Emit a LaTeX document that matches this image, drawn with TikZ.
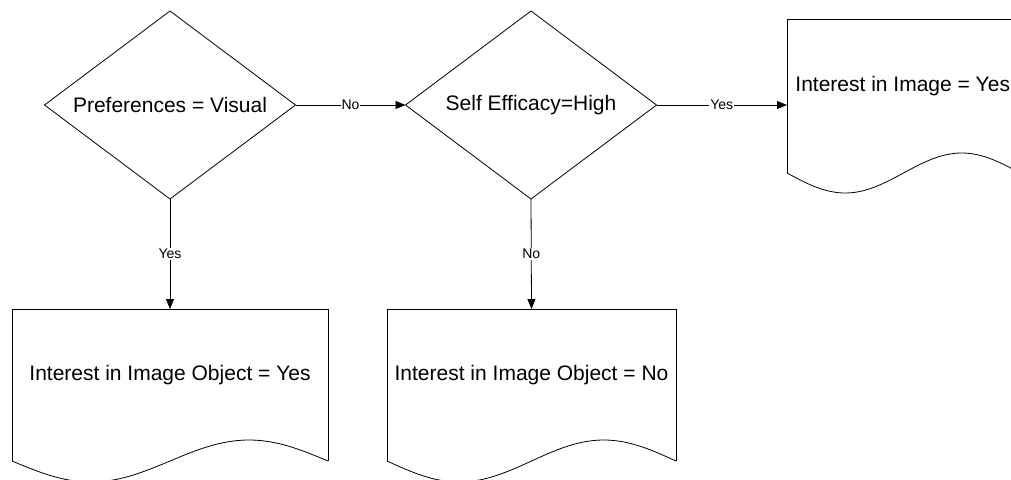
\documentclass[tikz,border=0pt]{standalone}
\usepackage{fontspec}
\setmainfont{Liberation Sans}
\usetikzlibrary{shapes.geometric,arrows.meta,calc}
\tikzset{
  decision/.style={diamond, draw, shape aspect=1.335, inner sep=0pt, outer sep=0pt,
    minimum width=251pt, minimum height=188pt, font=\fontsize{21}{25}\selectfont},
  docbody/.style={rectangle, inner sep=0pt, outer sep=0pt, anchor=north west},
  doctext/.style={font=\fontsize{21}{25}\selectfont, inner sep=0pt},
  lab/.style={fill=white, inner sep=1pt, font=\fontsize{14}{16}\selectfont},
  arr/.style={-{Triangle[length=10pt,width=8pt]}}
}
\newcommand{\docoutline}[2]{% node name, amplitude
  \draw (#1.south west) -- (#1.north west) -- (#1.north east) -- (#1.south east);
  \path (#1.south west) coordinate (#1-a) (#1.south east) coordinate (#1-b);
  \draw let \p1=(#1-a), \p2=(#1-b), \n1={(\x2-\x1)/4} in
    (#1-a) sin ++(\n1,-#2) cos ++(\n1,#2) sin ++(\n1,#2) cos ++(\n1,-#2);
}
\begin{document}
\begin{tikzpicture}[x=1pt, y=-1pt, line width=0.8pt]
\useasboundingbox (0,0) rectangle (1011,479);
\clip (0,0) rectangle (1011,479);

\node[decision] (p1) at (170,105) {Preferences = Visual};
\node[decision] (p2) at (531,105) {Self Efficacy=High};

\node[docbody, minimum width=316pt, minimum height=152pt] (d1) at (12,309) {};
\node[docbody, minimum width=289pt, minimum height=152pt] (d2) at (387,309) {};
\node[docbody, minimum width=233pt, minimum height=154pt] (d3) at (787,19) {};

\docoutline{d1}{21pt}
\docoutline{d2}{21pt}
\docoutline{d3}{20pt}

\node[doctext] (t1) at ([yshift=10pt]d1.center) {Interest in Image Object = Yes};
\node[doctext] (t2) at ([yshift=10pt]d2.center) {Interest in Image Object = No};
\node[doctext, anchor=west] (t3) at (795,86) {Interest in Image = Yes};

\draw[arr] (p1.east) -- node[lab] {No} (p2.west);
\draw[arr] (p2.east) -- node[lab] {Yes} (p2.east -| d3.west);
\draw[arr] (p1.south) -- node[lab] {Yes} (d1.north);
\draw[arr] (p2.south) -- node[lab] {No} (d2.north);
\end{tikzpicture}
\end{document}
